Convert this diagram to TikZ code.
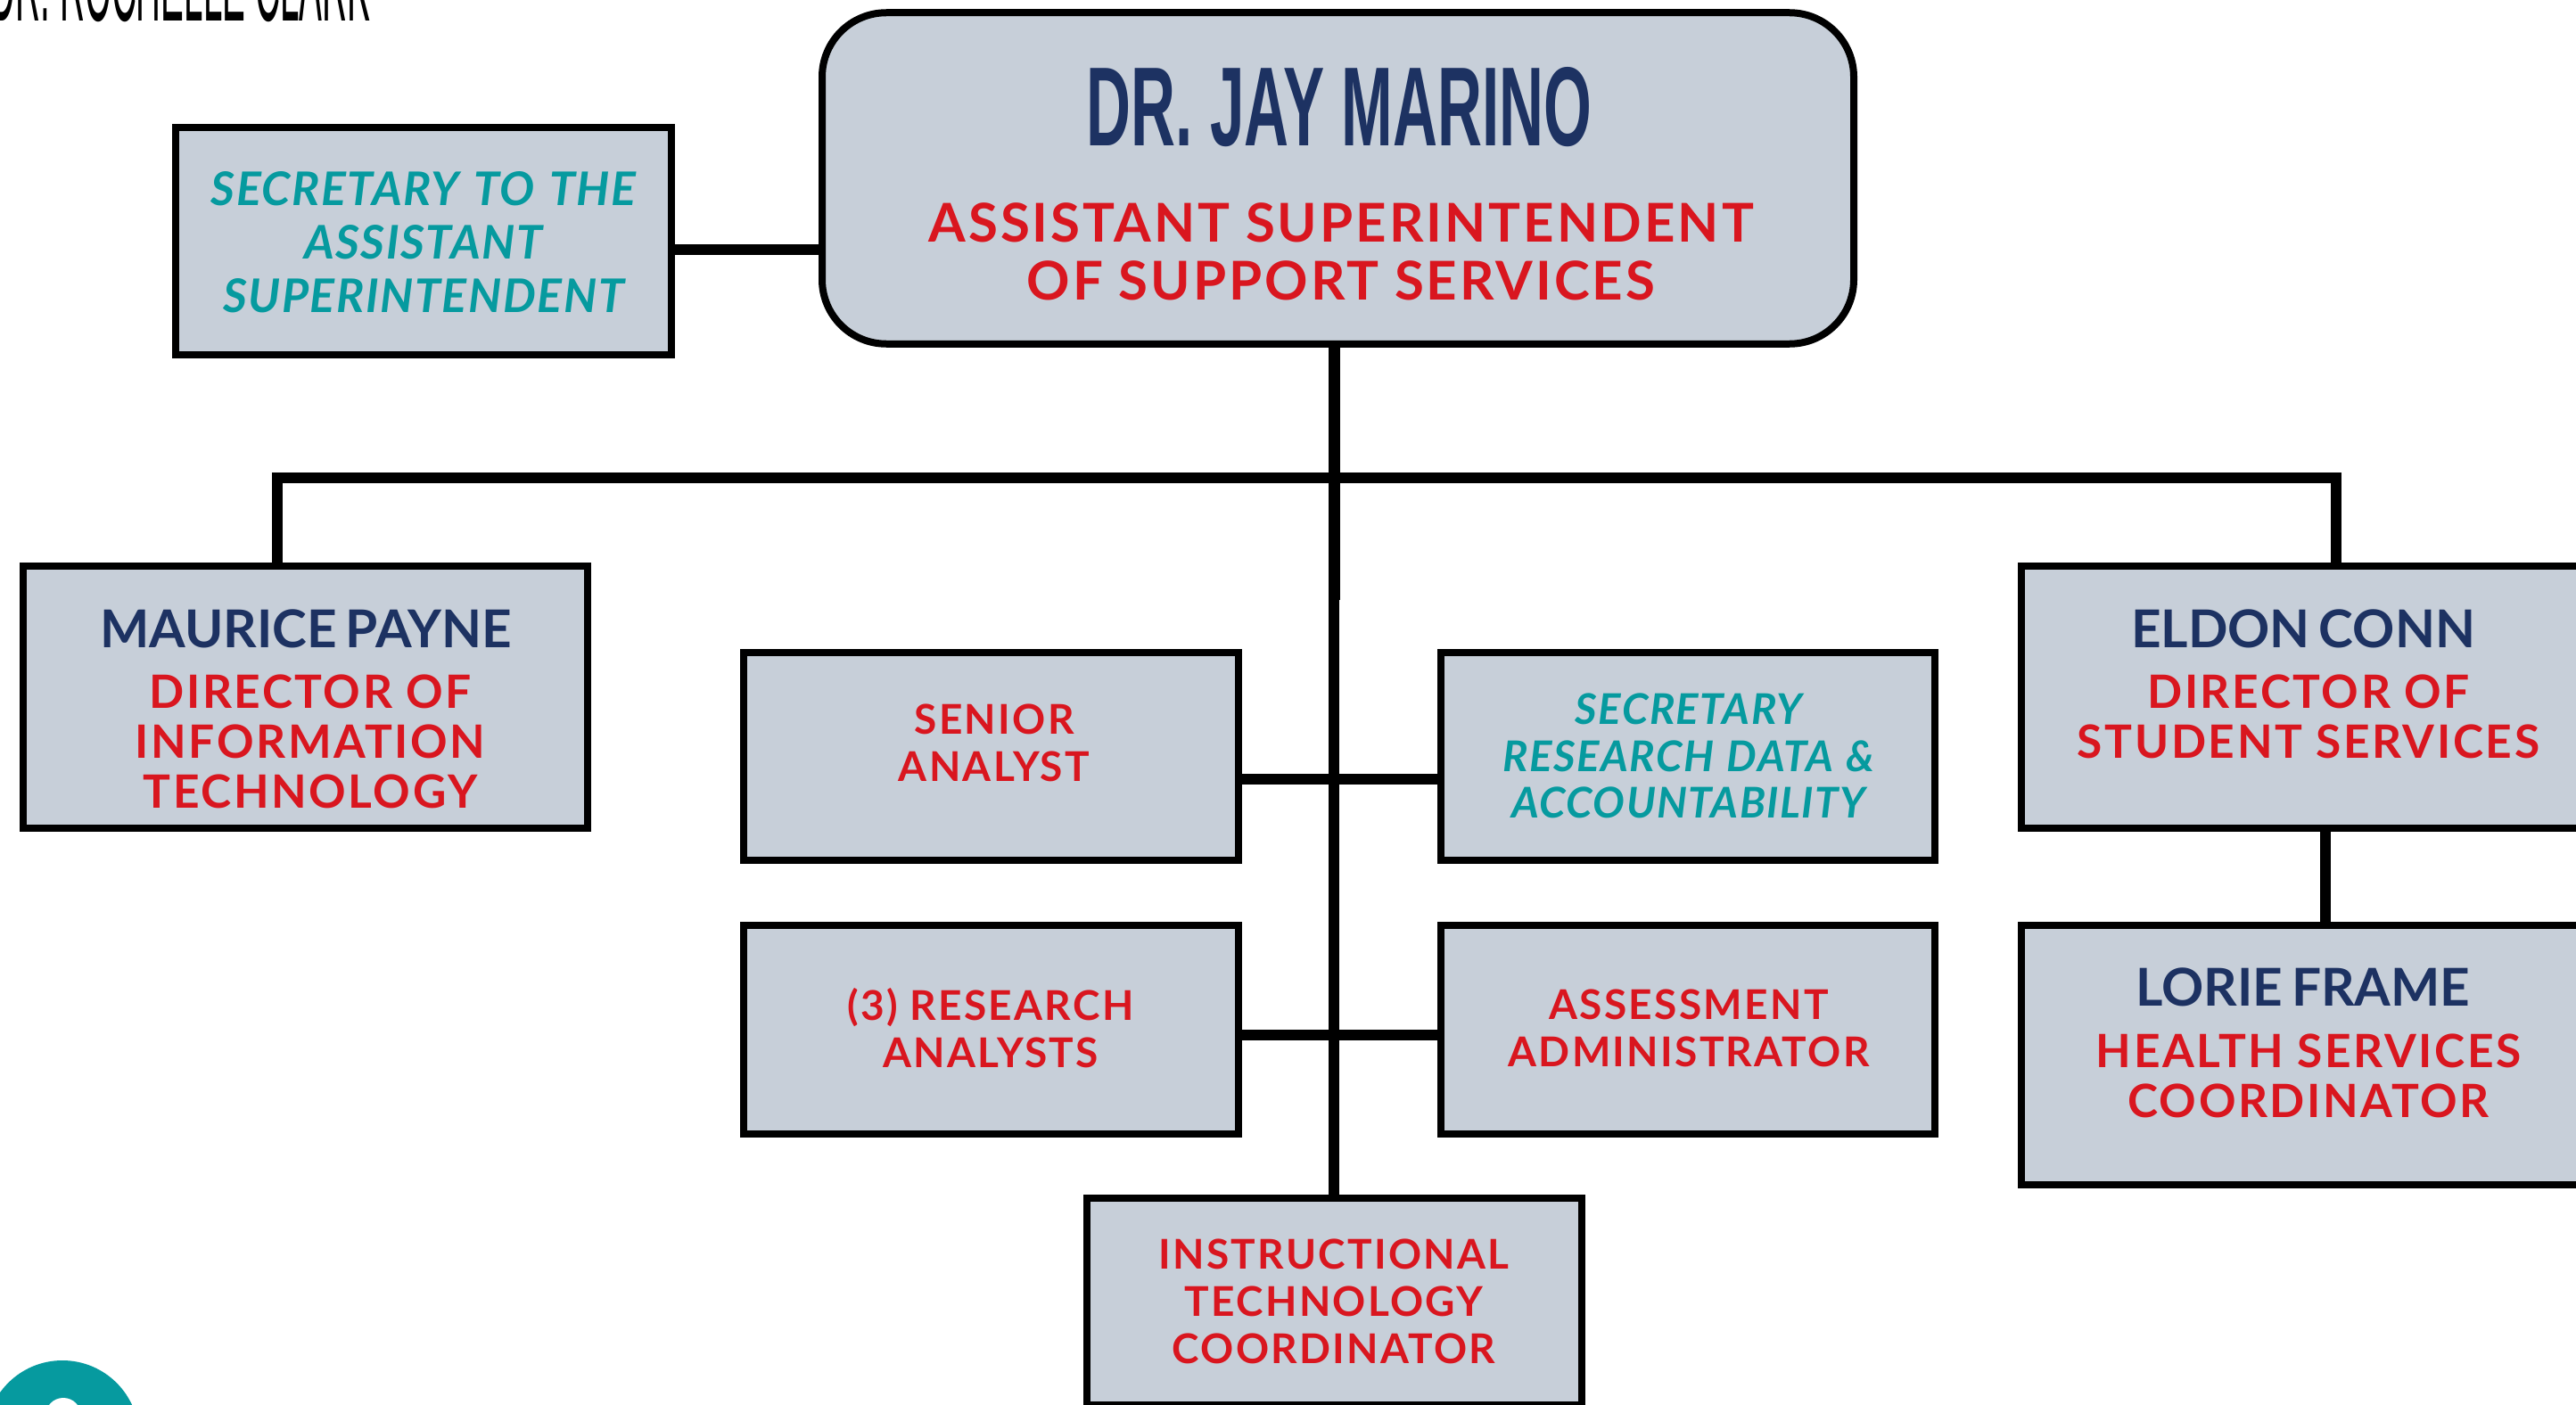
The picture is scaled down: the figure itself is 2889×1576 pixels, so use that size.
\documentclass[tikz,border=0pt]{standalone}
\usepackage{fontspec}
\setmainfont{Lato}
\newfontfamily\latoR[LetterSpace=5]{Lato}
\newfontfamily\latoN[WordSpace=0.7]{Lato}
\newfontfamily\latoT[LetterSpace=3,WordSpace=1.25]{Lato}
\newfontfamily\disp{Liberation Sans}
\definecolor{boxfill}{HTML}{C7CFD9}
\definecolor{navy}{HTML}{1D3262}
\definecolor{redtxt}{HTML}{D9161F}
\definecolor{tealtxt}{HTML}{069A9F}
\tikzset{
 orgbox/.style={draw=black,fill=boxfill,line width=8pt,inner sep=0pt,outer sep=0pt},
 conn/.style={draw=black,line width=12pt,line cap=butt,line join=miter},
 connwide/.style={draw=black,line width=13pt,line cap=butt},
 txt/.style={inner sep=0pt,outer sep=0pt,align=center},
 rolebig/.style={txt,text=redtxt,font=\latoR\bfseries\fontsize{60}{65}\selectfont},
 rolemid/.style={txt,text=redtxt,font=\latoR\bfseries\fontsize{51.5}{56}\selectfont},
 rolesmall/.style={txt,text=redtxt,font=\latoR\bfseries\fontsize{46}{53}\selectfont},
 namemid/.style={txt,text=navy,font=\latoN\bfseries\fontsize{58.5}{60}\selectfont},
 teallg/.style={txt,text=tealtxt,font=\latoT\itshape\bfseries\fontsize{52}{60}\selectfont},
 tealsm/.style={txt,text=tealtxt,font=\latoT\itshape\bfseries\fontsize{47.5}{52.5}\selectfont},
}
\begin{document}
\begin{tikzpicture}[x=1pt,y=-1pt]
\useasboundingbox (0,0) rectangle (2889,1576);
\clip (0,0) rectangle (2889,1576);
\fill[white] (0,0) rectangle (2889,1576);
% top-left clipped label and teal mark
\node[txt,anchor=south east] (clark) at (415,25) {\resizebox{425pt}{90pt}{\disp DR. ROCHELLE CLARK}};
\fill[tealtxt] (70,1612) circle (86);
\fill[white] (71,1588) circle (20);
% boxes
\node[orgbox,rounded corners=72pt,minimum width=1157pt,minimum height=371.5pt] (top) at (1500.5,200) {};
\node[orgbox,minimum width=556pt,minimum height=255pt] (sec) at (475,270.5) {};
\node[orgbox,minimum width=633pt,minimum height=294pt] (payne) at (342,782) {};
\node[orgbox,minimum width=555pt,minimum height=233pt] (senior) at (1111.5,848.5) {};
\node[orgbox,minimum width=554pt,minimum height=233pt] (secr) at (1893,848.5) {};
\node[orgbox,minimum width=555pt,minimum height=234pt] (research) at (1111.5,1155) {};
\node[orgbox,minimum width=554pt,minimum height=234pt] (assess) at (1893,1155) {};
\node[orgbox,minimum width=555pt,minimum height=232pt] (instr) at (1496.5,1460) {};
\node[orgbox,minimum width=633pt,minimum height=294pt] (conn) at (2583.5,782) {};
\node[orgbox,minimum width=633pt,minimum height=291pt] (frame) at (2583.5,1183.5) {};
% routing points
\coordinate (spine) at (1496.5,536);
\coordinate (brk) at (1496.5,673);
\coordinate (spineb) at (1496,673);
\coordinate (busL) at (311,536);
\coordinate (busR) at (2620,536);
\coordinate (rowA) at (0,280);
\coordinate (rowB) at (0,874);
\coordinate (rowC) at (0,1161);
\coordinate (drop) at (2608,0);
% connectors
\draw[conn] (sec.east |- rowA) -- (top.west |- rowA);
\draw[connwide] (top.south -| spine) -- (brk);
\draw[conn] (spineb) -- (instr.north -| spineb);
\draw[conn] (payne.north -| busL) -- (busL) -- (busR) -- (conn.north -| busR);
\draw[conn] (senior.east |- rowB) -- (secr.west |- rowB);
\draw[conn] (research.east |- rowC) -- (assess.west |- rowC);
\draw[conn] (conn.south -| drop) -- (frame.north -| drop);
% texts
\node[txt,text=navy] (jay) at (1502,120) {\resizebox{566pt}{88pt}{\disp\bfseries DR. JAY MARINO}};
\node[rolebig] (jayrole) at (1504,282.5) {ASSISTANT SUPERINTENDENT\\OF SUPPORT SERVICES};
\node[teallg] (sectxt) at (475,272) {SECRETARY TO THE\\ASSISTANT\\SUPERINTENDENT};
\node[namemid] (payname) at (343,705) {MAURICE PAYNE};
\node[rolemid] (payrole) at (348,831.5) {DIRECTOR OF\\INFORMATION\\TECHNOLOGY};
\node[rolesmall] (sentxt) at (1115,833) {SENIOR\\ANALYST};
\node[tealsm] (secrtxt) at (1894,848) {SECRETARY\\RESEARCH DATA \&\\ACCOUNTABILITY};
\node[rolesmall] (restxt) at (1111,1153) {(3) RESEARCH\\ANALYSTS};
\node[rolesmall] (asstxt) at (1894,1153) {ASSESSMENT\\ADMINISTRATOR};
\node[rolesmall] (instxt) at (1496,1460) {INSTRUCTIONAL\\TECHNOLOGY\\COORDINATOR};
\node[namemid] (conname) at (2583,705) {ELDON CONN};
\node[rolemid] (conrole) at (2589,803.5) {DIRECTOR OF\\STUDENT SERVICES};
\node[namemid] (frname) at (2583,1107) {LORIE FRAME};
\node[rolemid] (frrole) at (2589,1207) {HEALTH SERVICES\\COORDINATOR};
\end{tikzpicture}
\end{document}
